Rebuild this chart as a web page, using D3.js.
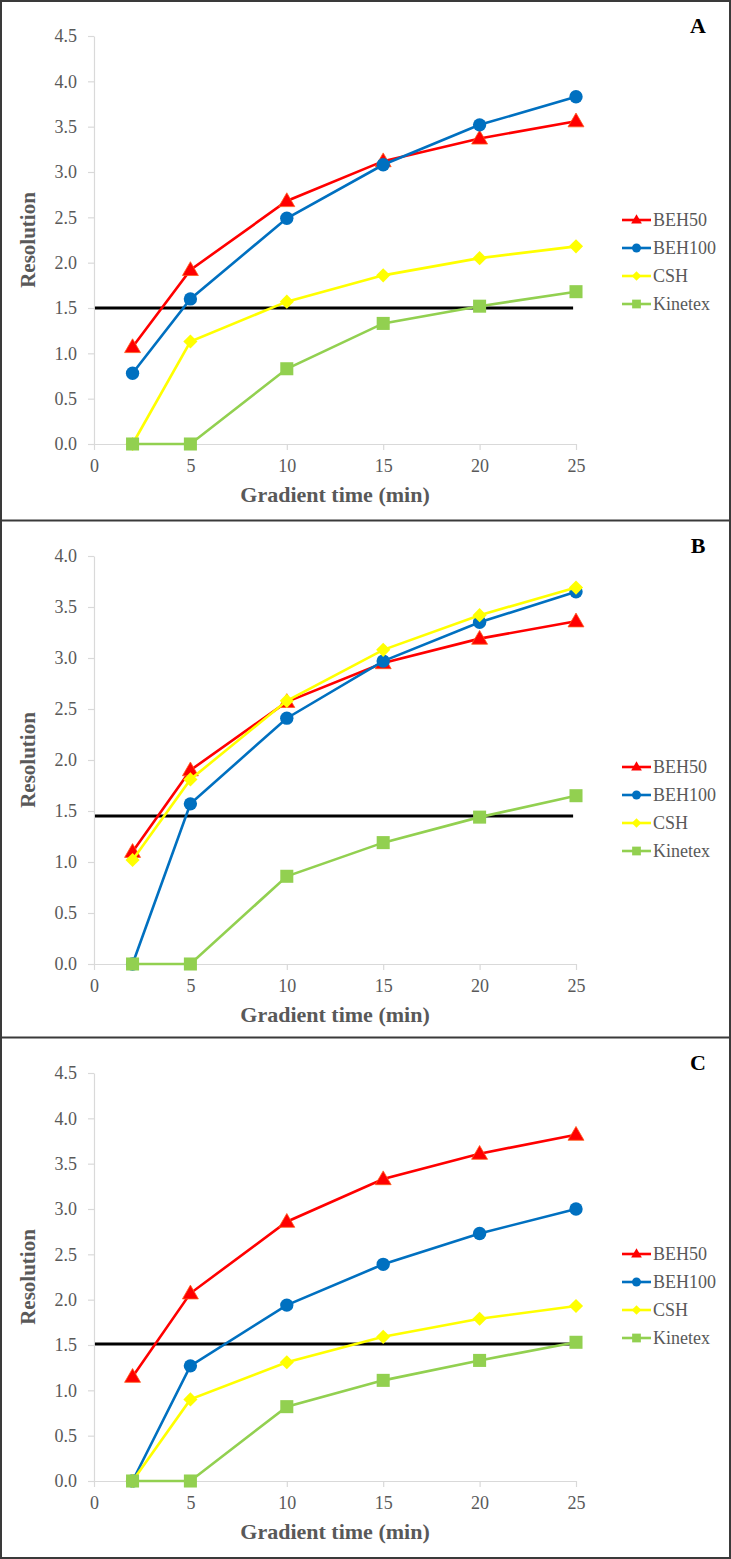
<!DOCTYPE html>
<html>
<head>
<meta charset="utf-8">
<script src="https://cdn.jsdelivr.net/npm/d3@7"></script>
<style>
  body { margin: 0; background: #fff; }
  svg { display: block; }
  svg text { font-family: "Liberation Serif", "Times New Roman", serif; }
</style>
</head>
<body>
<script>
// gradient times (min)
const gradientTimes = [2, 5, 10, 15, 20, 25];
const xTicks = [0, 5, 10, 15, 20, 25];
const seriesNames = ['BEH50', 'BEH100', 'CSH', 'Kinetex'];
const panelLabels = ['A', 'B', 'C'];
const panelYMax = [4.5, 4.0, 4.5];
const thresholds = [1.5, 1.45, 1.51];

// panel A
const beh50A = [1.07, 1.92, 2.68, 3.12, 3.37, 3.56];
const beh100A = [0.78, 1.60, 2.49, 3.08, 3.52, 3.83];
const cshA = [0.00, 1.13, 1.57, 1.86, 2.05, 2.18];
const kinetexA = [0.00, 0.00, 0.83, 1.33, 1.52, 1.68];

// panel B
const beh50B = [1.10, 1.90, 2.57, 2.95, 3.19, 3.36];
const beh100B = [0.00, 1.57, 2.41, 2.97, 3.35, 3.65];
const cshB = [1.02, 1.81, 2.58, 3.08, 3.42, 3.69];
const kinetexB = [0.00, 0.00, 0.86, 1.19, 1.44, 1.65];

// panel C
const beh50C = [1.15, 2.07, 2.86, 3.33, 3.61, 3.82];
const beh100C = [0.00, 1.27, 1.94, 2.39, 2.73, 3.00];
const cshC = [0.00, 0.90, 1.31, 1.59, 1.79, 1.93];
const kinetexC = [0.00, 0.00, 0.82, 1.11, 1.33, 1.53];

const panelSeries = [
  [beh50A, beh100A, cshA, kinetexA],
  [beh50B, beh100B, cshB, kinetexB],
  [beh50C, beh100C, cshC, kinetexC]
];

const W = 731, H = 1559;
const panelTops = [0, 520, 1037];
const legendTops = [220, 247, 217];
const colors = ['#ff0000', '#0070c0', '#ffff00', '#92d050'];
const symbols = [d3.symbolTriangle, d3.symbolCircle, d3.symbolSquare, d3.symbolSquare];
const symSizes = [110, 140, 100, 170];
const symRotate = [0, 0, 45, 0];
const fontFam = '"Liberation Serif", "Times New Roman", serif';
const textColor = '#595959';

const svg = d3.select('body').append('svg')
  .attr('width', W)
  .attr('height', H)
  .style('font-family', fontFam);

const x = d3.scaleLinear().domain([0, 25]).range([94, 576]);

panelLabels.forEach((label, p) => {
  const g = svg.append('g').attr('transform', `translate(0,${panelTops[p]})`);
  const y = d3.scaleLinear().domain([0, panelYMax[p]]).range([444, 36]);

  // axes
  const yAxis = g.append('g')
    .attr('transform', `translate(${x(0)},0)`)
    .call(d3.axisLeft(y)
      .tickValues(d3.range(0, panelYMax[p] + 0.01, 0.5))
      .tickFormat(d3.format('.1f'))
      .tickSizeInner(6).tickSizeOuter(0).tickPadding(11));

  const xAxis = g.append('g')
    .attr('transform', `translate(0,${y(0)})`)
    .call(d3.axisBottom(x)
      .tickValues(xTicks)
      .tickSizeInner(6).tickSizeOuter(0).tickPadding(9));

  [xAxis, yAxis].forEach(a => {
    a.attr('font-family', fontFam);
    a.selectAll('path, line').attr('stroke', '#d9d9d9').attr('stroke-width', 1.2);
    a.selectAll('text')
      .attr('fill', textColor)
      .style('font-size', '18px');
  });

  // axis titles
  g.append('text')
    .attr('transform', `translate(28,${(y(0) + y(panelYMax[p])) / 2}) rotate(-90)`)
    .attr('text-anchor', 'middle')
    .attr('dy', '0.35em')
    .attr('fill', textColor)
    .style('font-size', '21px')
    .style('font-weight', 'bold')
    .text('Resolution');

  g.append('text')
    .attr('x', (x(0) + x(25)) / 2)
    .attr('y', 494)
    .attr('dy', '0.35em')
    .attr('text-anchor', 'middle')
    .attr('fill', textColor)
    .style('font-size', '22px')
    .style('font-weight', 'bold')
    .text('Gradient time (min)');

  // panel letter
  g.append('text')
    .attr('x', 698)
    .attr('y', 25)
    .attr('dy', '0.35em')
    .attr('text-anchor', 'middle')
    .attr('fill', '#000')
    .style('font-size', '22px')
    .style('font-weight', 'bold')
    .text(label);

  // threshold line
  g.append('line')
    .attr('x1', x(0.05)).attr('x2', x(24.85))
    .attr('y1', y(thresholds[p])).attr('y2', y(thresholds[p]))
    .attr('stroke', '#000')
    .attr('stroke-width', 3);

  const line = d3.line()
    .x((d, i) => x(gradientTimes[i]))
    .y(d => y(d));

  panelSeries[p].forEach((vals, s) => {
    g.append('path')
      .datum(vals)
      .attr('d', line)
      .attr('fill', 'none')
      .attr('stroke', colors[s])
      .attr('stroke-width', 2.6);

    g.selectAll(null)
      .data(vals)
      .enter()
      .append('path')
      .attr('d', d3.symbol().type(symbols[s]).size(symSizes[s]))
      .attr('transform', (d, i) => `translate(${x(gradientTimes[i])},${y(d) + (s === 0 ? 1 : 0)}) rotate(${symRotate[s]})`)
      .attr('fill', colors[s])
      .attr('stroke', s === 0 ? '#ff5a1a' : 'none')
      .attr('stroke-width', 0.8);
  });

  // legend
  const lg = g.append('g').attr('transform', `translate(622,${legendTops[p]})`);
  seriesNames.forEach((name, s) => {
    const row = lg.append('g').attr('transform', `translate(0,${s * 28})`);
    row.append('line')
      .attr('x1', 0).attr('x2', 29)
      .attr('stroke', colors[s])
      .attr('stroke-width', 2.6);
    row.append('path')
      .attr('d', d3.symbol().type(symbols[s]).size(symSizes[s] * 0.45))
      .attr('transform', `translate(14.5,${s === 0 ? 0.5 : 0}) rotate(${symRotate[s]})`)
      .attr('fill', colors[s]);
    row.append('text')
      .attr('x', 31)
      .attr('dy', '0.35em')
      .attr('fill', textColor)
      .style('font-family', fontFam)
      .style('font-size', '18px')
      .text(name);
  });
});

// frame and separators
svg.append('rect')
  .attr('x', 1).attr('y', 1)
  .attr('width', W - 2).attr('height', H - 2)
  .attr('fill', 'none')
  .attr('stroke', '#3a3a3a')
  .attr('stroke-width', 2);

svg.selectAll(null)
  .data(panelTops.slice(1))
  .enter()
  .append('line')
  .attr('x1', 0).attr('x2', W)
  .attr('y1', d => d + 0.5).attr('y2', d => d + 0.5)
  .attr('stroke', '#3a3a3a')
  .attr('stroke-width', 2);
</script>
</body>
</html>
